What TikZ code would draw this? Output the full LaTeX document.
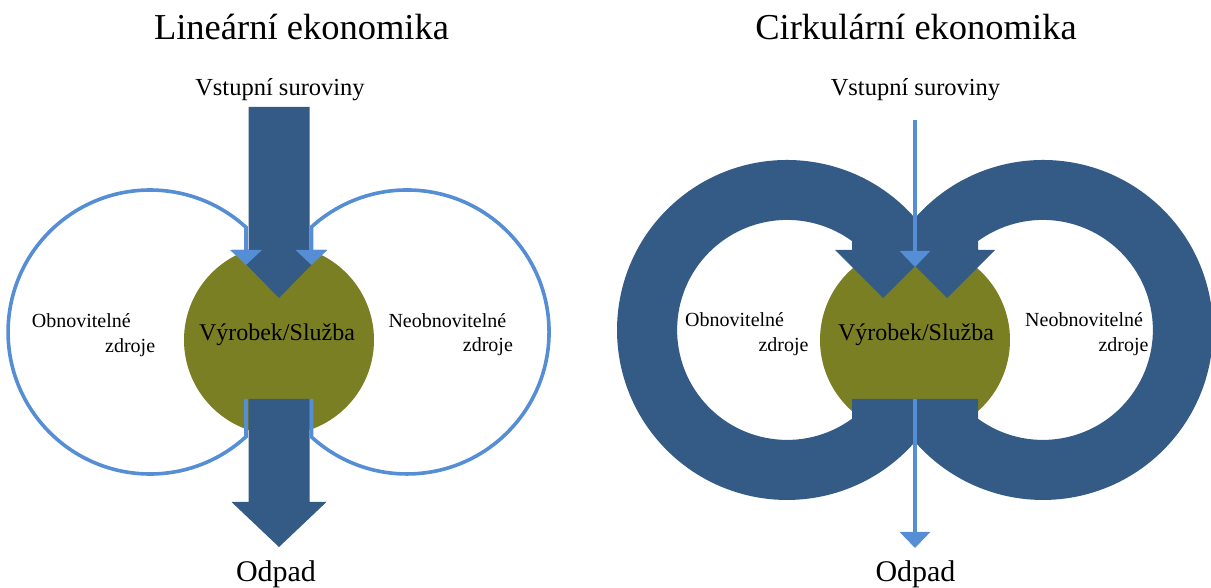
\documentclass[tikz,border=0pt]{standalone}
\usepackage{fontspec}
\setmainfont{Liberation Serif}
\usetikzlibrary{arrows.meta}
\definecolor{ringnavy}{HTML}{345A86}
\definecolor{prodolive}{HTML}{7B7F24}
\definecolor{flowblue}{HTML}{558ED5}
\begin{document}
\begin{tikzpicture}[x=1pt,y=1pt,
  txt/.style={inner sep=0pt, text=black},
  titletxt/.style={txt, anchor=base, font=\fontsize{36.5}{40}\selectfont},
  labtxt/.style={txt, anchor=base, font=\fontsize{24.5}{28}\selectfont},
  wastetxt/.style={txt, anchor=base, font=\fontsize{30}{34}\selectfont},
  prodtxt/.style={txt, anchor=base, font=\fontsize{24}{28}\selectfont},
  srctxt/.style={txt, anchor=base west, font=\fontsize{20}{24}\selectfont},
  product/.style={circle, fill=prodolive, minimum size=190pt, inner sep=0pt},
  flow/.style={draw=flowblue, line width=3.6pt, -{Triangle[width=31pt,length=15pt]}},
  thinflow/.style={draw=flowblue, line width=3.2pt, -{Triangle[width=30pt,length=16pt]}},
  block/.style={fill=ringnavy}
]
\useasboundingbox (0,0) rectangle (1211,588);

% ---------------- linear economy ----------------
\node[titletxt] (titleL) at (301.5,548.7) {Lineární ekonomika};
\node[labtxt] (inL) at (280,492) {Vstupní suroviny};
\node[wastetxt] (outL) at (276,6) {Odpad};

\node[product] (prodL) at (279,248) {};

% raw material arrow and waste arrow
\fill[block] (248.5,481) -- (309.5,481) -- (309.5,338) -- (326,338) -- (279,290)
  -- (232,338) -- (248.5,338) -- cycle;
\fill[block] (248.5,189) -- (309.5,189) -- (309.5,86) -- (326.5,86) -- (279,41)
  -- (231.5,86) -- (248.5,86) -- cycle;

% resource loops
\draw[flow] (246,189) -- (246,151.3)
  arc[start angle=-47.5, end angle=-312.5, radius=142] -- (246,323);
\draw[flow] (311.5,189) -- (311.5,151)
  arc[start angle=-132.3, end angle=132.3, radius=142] -- (311.5,323);

\node[prodtxt] (prodLtxt) at (277,247) {Výrobek/Služba};
\node[srctxt] (renL1) at (31.7,260.3) {Obnovitelné};
\node[srctxt] (renL2) at (105,235.7) {zdroje};
\node[srctxt] (nonL1) at (388.3,260.3) {Neobnovitelné};
\node[srctxt] (nonL2) at (462.7,236) {zdroje};

% ---------------- circular economy ----------------
\node[titletxt] (titleR) at (916,548.7) {Cirkulární ekonomika};
\node[labtxt] (inR) at (915.5,492) {Vstupní suroviny};
\node[wastetxt] (outR) at (915.5,6) {Odpad};

\node[product] (prodR) at (915,248) {};

% left loop
\fill[block] (915,189) -- (852,189) -- (852,169.26)
  arc[start angle=-53.85, end angle=-306.15, radius=110]
  -- (852,338) -- (835,338) -- (883,290) -- (931,338) -- (915,338) -- (915,369.9)
  arc[start angle=41.16, end angle=318.84, radius=170] -- cycle;
% right loop
\fill[block] (915,189) -- (978,189) -- (978,169.26)
  arc[start angle=-126.15, end angle=126.15, radius=110]
  -- (978,338) -- (995,338) -- (947,290) -- (899,338) -- (915,338) -- (915,369.9)
  arc[start angle=138.84, end angle=-138.84, radius=170] -- cycle;

% thin through-flow
\coordinate (thinTop) at (915,468);
\coordinate (thinBot) at (915,40);
\draw[thinflow] (thinTop) -- (915,321);
\draw[thinflow] (915,189) -- (thinBot);

\node[prodtxt] (prodRtxt) at (916,247) {Výrobek/Služba};
\node[srctxt] (renR1) at (685,261.3) {Obnovitelné};
\node[srctxt] (renR2) at (758.3,236.3) {zdroje};
\node[srctxt] (nonR1) at (1025,261.3) {Neobnovitelné};
\node[srctxt] (nonR2) at (1098.3,236.3) {zdroje};
\end{tikzpicture}
\end{document}
